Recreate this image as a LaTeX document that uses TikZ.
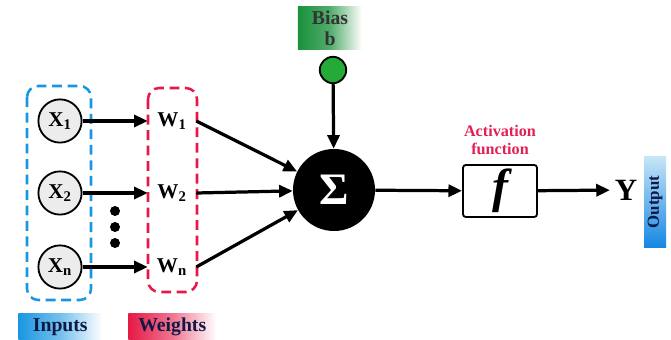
\documentclass[tikz,border=0pt]{standalone}
\usepackage{tikz}
\usepackage{fontspec}
\setmainfont{Liberation Serif}
\usetikzlibrary{arrows.meta,positioning}
\definecolor{inblue}{RGB}{25,150,225}
\definecolor{wred}{RGB}{230,25,70}
\definecolor{bgreen}{RGB}{25,145,60}
\definecolor{dotgreen}{RGB}{35,170,55}
\definecolor{actred}{RGB}{225,30,85}
\definecolor{navy}{RGB}{15,25,70}

\begin{document}
\begin{tikzpicture}[x=0.025cm,y=-0.025cm,
  font=\bfseries,
  inp/.style={circle,draw,line width=1.3pt,fill=gray!15,minimum size=1.08cm,inner sep=0pt,font=\bfseries\fontsize{15}{17}\selectfont},
  wgt/.style={minimum width=1.2cm,minimum height=0.6cm,inner sep=0pt,font=\bfseries\fontsize{15}{17}\selectfont},
  conn/.style={line width=2.3pt,-{Triangle[length=3.4mm,width=3mm]}},
  legend/.style={minimum height=0.68cm,inner sep=2pt,text=navy,font=\bfseries\fontsize{14}{16}\selectfont}]
\useasboundingbox (0,0) rectangle (671,340);

% inputs and weights
\draw[inblue,line width=1.8pt,rounded corners=8pt,dash pattern=on 7pt off 4pt] (27,86) rectangle (91,300);
\draw[wred,line width=1.8pt,rounded corners=8pt,dash pattern=on 7pt off 4pt] (148,88) rectangle (197,292);
\node[inp] (x1) at (60,121) {X\textsubscript{1}};
\node[inp] (x2) at (60,193) {X\textsubscript{2}};
\node[inp] (xn) at (60,267) {X\textsubscript{n}};
\node[wgt] (w1) at (172,121) {W\textsubscript{1}};
\node[wgt] (w2) at (172,193) {W\textsubscript{2}};
\node[wgt] (wn) at (172,267) {W\textsubscript{n}};
\foreach \y in {211,227,243} \fill (115,\y) circle (5);
\draw[conn] (x1) -- (w1);
\draw[conn] (x2) -- (w2);
\draw[conn] (xn) -- (wn);

% summation and bias
\node[circle,fill=black,text=white,minimum size=2.05cm,inner sep=0pt,font=\bfseries\fontsize{32}{34}\selectfont] (sum) at (334,190) {Σ};
\node[circle,draw,line width=1.3pt,fill=dotgreen,minimum size=0.66cm,inner sep=0pt] (bdot) at (333,70) {};
\node[left color=bgreen,right color=white,middle color=bgreen!75,minimum width=1.6cm,minimum height=1.08cm,align=center,inner sep=0pt,text=black!80,font=\bfseries\fontsize{14}{15}\selectfont] (bias) at (330,28) {Bias\\b};
\draw[conn] (w1.east) -- (sum);
\draw[conn] (w2.east) -- (sum);
\draw[conn] (wn.east) -- (sum);
\draw[conn] (bdot) -- (sum);

% activation and output
\node[draw,line width=1.3pt,rounded corners=2pt,minimum width=1.85cm,minimum height=1.3cm,inner sep=0pt,font=\bfseries\itshape\fontsize{34}{36}\selectfont] (act) at (500,191) {f};
\node[text=actred,align=center,font=\bfseries\fontsize{11.5}{13}\selectfont,above=3pt of act] (actlab) {Activation\\function};
\node[font=\bfseries\fontsize{22}{24}\selectfont] (y) at (626,190) {Y};
\draw[conn] (sum) -- (act);
\draw[conn] (act) -- (y);
\node[rotate=90,top color=inblue!25,bottom color=inblue!90!blue,minimum width=2.25cm,minimum height=0.55cm,inner sep=0pt,text=navy,font=\bfseries\fontsize{12}{14}\selectfont] (out) at (655,202) {Output};

% legend
\node[legend,left color=inblue,right color=white,middle color=inblue!60,minimum width=2.1cm,anchor=north west] (inlab) at (18,313) {Inputs};
\node[legend,left color=wred,right color=white,middle color=wred!60,minimum width=2.2cm,anchor=north west] (wlab) at (128,313) {Weights};
\end{tikzpicture}
\end{document}
